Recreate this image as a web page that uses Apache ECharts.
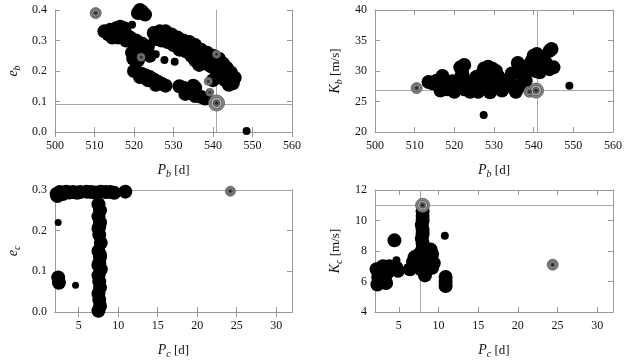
<!DOCTYPE html>
<html><head><meta charset="utf-8">
<script src="https://cdn.jsdelivr.net/npm/echarts@6/dist/echarts.min.js"></script>
<style>html,body{margin:0;padding:0;background:#fff}#c{width:639px;height:361px}</style>
</head><body><div id="c"></div>
<script>
// ---------- DATA ----------
// Panel 1: P_b [d] vs e_b
const pbEbMain = [
 [512.5,0.33],[513.5,0.32],[514,0.335],[515,0.325],[515.5,0.34],[516.5,0.345],[516.5,0.325],[517.5,0.34],[518,0.32],[514.5,0.31],[516,0.31],[518,0.3],
 [519,0.31],[519.5,0.295],[520.5,0.3],[521,0.285],[522,0.29],[522.5,0.275],[523.5,0.28],[523.5,0.26],[524,0.25],[519.5,0.26],[520.5,0.25],[521,0.235],[519.8,0.24],[522,0.255],[520.5,0.27],
 [521,0.39],[522,0.395],[522.8,0.385],[521.5,0.4],
 [525,0.325],[526.5,0.33],[528,0.33],[529.5,0.32],[531,0.31],[532.5,0.3],[534,0.295],[535.5,0.285],[537,0.27],[538.5,0.26],[540,0.25],[541.5,0.24],[542.5,0.225],[543.5,0.21],[544.5,0.195],[545.5,0.178],
 [525.5,0.305],[527,0.3],[528.5,0.295],[530,0.285],[531.5,0.27],[533,0.265],[534.5,0.25],[535.5,0.235],[536.5,0.22],[538,0.225],[539.5,0.215],[541,0.2],[542,0.185],[543,0.17],[544,0.155],[545,0.16],
 [530,0.3],[533,0.28],[536,0.26],[539,0.24],[541,0.22],[543.5,0.185],
 [540,0.17],[540.8,0.18],[544.5,0.165],
 [520,0.2],[521,0.195],[522,0.19],[523,0.185],[524,0.18],[525,0.172],[526,0.165],[527,0.158],[528,0.152],[521.5,0.18],[523.5,0.17],[525.5,0.155],
 [531.5,0.15],[532.5,0.145],[533.5,0.138],[534.5,0.13],[535.5,0.145],[535,0.152],[536,0.12],[537,0.115],[538,0.11],[533,0.125],[535.5,0.118]];
const pbEbMinor = [[519.5,0.352],[525.5,0.255],[527.7,0.236],[530.3,0.23],[548.5,0.003]];
const pbEbBestLarge = [[540.9,0.095]];
const pbEbBestMid = [[510.3,0.39]];
const pbEbBestSmall = [[538.8,0.166],[540.9,0.255],[539.2,0.13],[521.8,0.245]];
const truthPb = 540.9, truthEb = 0.092;

// Panel 2: P_b [d] vs K_b [m/s]
const pbKbMain = [[513.5,28.2],[514.5,28],[515.5,28.4],[516.5,27.8],[517,29.2],[517.5,28.2],[516.5,26.8],[518,27],[519,27.4],[519.5,28.3],[520,26.6],[521,27.6],[521.5,30.6],[522.5,31],[522,29.6],[521.5,28.8],[522.5,27],[523.5,27.8],[524,26.6],[524.5,28.3],[525,27.2],[525.5,29],[526,28.2],[526,26.6],[527,29.6],[527.5,30.4],[528.5,30.7],[529.5,30.4],[530.5,30],[531,29.2],[527.5,28.2],[528.5,27.4],[529.5,28.6],[530.5,27.8],[531.5,28.6],[532.5,28.2],[533.5,27.6],[534,28.8],[534.5,29.6],[535.5,27.2],[535.5,26.6],[536,31.3],[536.5,30.2],[537,29.4],[538,29.8],[538.5,30.8],[539.5,31.6],[540,32.5],[540.8,32.8],[541.5,31.6],[542,31],[542.5,32],[543,31.4],[544,33.3],[544.5,33.6],[545,30.6],[544,30.3],[540.5,30],[541.5,29.8],[538,28.4],[536.5,27.5],[532,26.8],[529,26.5]];
const pbKbMinor = [[527.4,22.8],[549,27.6]];
const pbKbBestLarge = [[540.6,26.8]];
const pbKbBestMid = [[510.5,27.2],[538.9,26.6]];
const truthKb = 26.9;

// Panel 3: P_c [d] vs e_c
const pcEcMain = [[2.2,0.29],[2.6,0.295],[3,0.29],[3.4,0.296],[3.8,0.294],[4.3,0.295],[4.8,0.293],[5.2,0.295],[6,0.296],[6.6,0.295],[7.2,0.294],[7.8,0.296],[8.4,0.295],[9,0.295],[9.5,0.293],[10.9,0.296],[2.3,0.285],
 [7.5,0.265],[7.7,0.25],[7.5,0.235],[7.7,0.22],[7.5,0.205],[7.6,0.19],[7.8,0.17],[7.5,0.15],[7.7,0.135],[7.6,0.12],[7.8,0.105],[7.5,0.09],[7.6,0.075],[7.7,0.06],[7.5,0.045],[7.6,0.03],[7.7,0.015],[7.5,0.003],[7.7,0.14],[7.5,0.115],[7.6,0.21],
 [2.4,0.085],[2.5,0.072]];
const pcEcMinor = [[2.4,0.22],[4.6,0.066]];
const pcEcBestMid = [[24.2,0.297]];
const truthPc = 7.7, truthEc = 0.299;

// Panel 4: P_c [d] vs K_c [m/s]
const pcKcMain = [[8,10.6],[8,10.3],[8,10.0],[7.9,9.7],[8,9.4],[8,9.1],[7.9,8.8],[8,8.5],[8,8.2],[7.9,7.9],
 [2.2,6.8],[2.4,6.3],[2.6,6],[2.8,6.6],[3,7],[3.2,6.2],[3.4,5.9],[3.6,6.6],[3.8,7],[2.3,5.8],[3.1,6.9],
 [4.45,8.7],[4.7,6.9],[4.9,6.7],[6.4,6.8],
 [7,7.6],[7.3,7.2],[7.6,7.8],[8,7.4],[8.3,6.4],[8.5,7],[8.8,7.6],[9.2,7.8],[9.4,7.2],[9.2,6.9],[7.8,6.8],[6.8,7.3],[8.1,6.8],[9,8.1],
 [10.9,6.3],[10.9,6],[10.9,5.7]];
const pcKcMinor = [[4.7,7.4],[10.8,9.0]];
const pcKcBestLarge = [[8,11.0]];
const pcKcBestMid = [[24.4,7.1]];
const truthKc = 11.0;

const pTicks = [5,10,15,20,25,30];

// ---------- CHART ----------
const FONT = 'Liberation Serif';
const frame = '#9a9a9a';
const rich = {
  i:{fontFamily:FONT,fontStyle:'italic',fontSize:14,color:'#111'},
  s:{fontFamily:FONT,fontStyle:'italic',fontSize:10,color:'#111',padding:[7,0,0,0]},
  u:{fontFamily:FONT,fontSize:13,color:'#111'}
};
const grids = [
  {left:55,top:10,width:237,height:122},
  {left:375,top:10,width:238,height:122},
  {left:55,top:190,width:237,height:122},
  {left:375,top:190,width:238,height:122}
];
function xAx(gi,min,max,interval,name,custom){
  const base = {type:'value',gridIndex:gi,min:min,max:max,
    axisLine:{lineStyle:{color:frame,width:1}},
    axisTick:{inside:true,length:5,lineStyle:{color:frame}},
    splitLine:{show:false}};
  if(interval) base.interval = interval;
  const bottom = Object.assign({},base,{position:'bottom',name:name,nameLocation:'middle',nameGap:30,
    nameTextStyle:{rich:rich},
    axisLabel:{fontFamily:FONT,fontSize:12,color:'#111',margin:8}});
  const top = Object.assign({},base,{position:'top',axisLabel:{show:false}});
  if(custom){
    bottom.axisLabel.customValues = custom;
    bottom.axisTick = Object.assign({},base.axisTick,{customValues:custom});
    top.axisTick = Object.assign({},base.axisTick,{customValues:custom});
  }
  return [bottom, top];
}
function yAx(gi,min,max,interval,name,gap,fmt){
  const base = {type:'value',gridIndex:gi,min:min,max:max,interval:interval,
    axisLine:{show:true,lineStyle:{color:frame,width:1}},
    axisTick:{show:true,inside:true,length:5,lineStyle:{color:frame}},
    splitLine:{show:false}};
  const left = Object.assign({},base,{position:'left',name:name,nameLocation:'middle',nameGap:gap,nameRotate:90,
    nameTextStyle:{rich:rich},
    axisLabel:{fontFamily:FONT,fontSize:12,color:'#111',margin:8,formatter:fmt}});
  const right = Object.assign({},base,{position:'right',axisLabel:{show:false}});
  return [left,right];
}
const xAxes = [].concat(
  xAx(0,500,560,10,'{i|P}{s|b}{u| [d]}'),
  xAx(1,500,560,10,'{i|P}{s|b}{u| [d]}'),
  xAx(2,2,32,null,'{i|P}{s|c}{u| [d]}',pTicks),
  xAx(3,2,32,null,'{i|P}{s|c}{u| [d]}',pTicks));
const yAxes = [].concat(
  yAx(0,0,0.4,0.1,'{i|e}{s|b}',33,v=>v.toFixed(1)),
  yAx(1,20,40,5,'{i|K}{s|b}{u| [m/s]}',31),
  yAx(2,0,0.3,0.1,'{i|e}{s|c}',33,v=>v.toFixed(1)),
  yAx(3,4,12,2,'{i|K}{s|c}{u| [m/s]}',31));

const series = [];
function truth(ai, xv, yv){
  const d = [];
  if(xv!=null) d.push({xAxis:xv});
  if(yv!=null) d.push({yAxis:yv});
  series.push({type:'line',xAxisIndex:ai*2,yAxisIndex:ai*2,data:[],z:1,
    markLine:{silent:true,z:1,symbol:'none',label:{show:false},animation:false,
      lineStyle:{color:'#a8a8a8',width:1,type:'solid'},data:d}});
}
function dots(ai,data,size){
  series.push({type:'scatter',xAxisIndex:ai*2,yAxisIndex:ai*2,data:data,symbolSize:size,z:10,clip:false,
    itemStyle:{color:'#000',opacity:1}});
}
function best(ai,data,size){
  const layers=[[size,'#8a8a8a','#555'],[size*0.7,'#bcbcbc','#444'],[size*0.42,'#7a7a7a','#333'],[size*0.18,'#222','#222']];
  layers.forEach((l,k)=>series.push({type:'scatter',xAxisIndex:ai*2,yAxisIndex:ai*2,data:data,symbolSize:l[0],z:20+k,clip:false,
    itemStyle:{color:l[1],borderColor:l[2],borderWidth:0.8,opacity:1}}));
}
truth(0,truthPb,truthEb); dots(0,pbEbMain,14); dots(0,pbEbMinor,8);
best(0,pbEbBestSmall,8); best(0,pbEbBestMid,11); best(0,pbEbBestLarge,16);
truth(1,truthPb,truthKb); dots(1,pbKbMain,14); dots(1,pbKbMinor,8);
best(1,pbKbBestMid,11); best(1,pbKbBestLarge,15);
truth(2,truthPc,truthEc); dots(2,pcEcMain,14); dots(2,pcEcMinor,7);
best(2,pcEcBestMid,10);
truth(3,truthPc,truthKc); dots(3,pcKcMain,14); dots(3,pcKcMinor,8);
best(3,pcKcBestLarge,14); best(3,pcKcBestMid,11);

const chart = echarts.init(document.getElementById('c'),null,{renderer:'canvas'});
chart.setOption({animation:false,backgroundColor:'#fff',grid:grids,xAxis:xAxes,yAxis:yAxes,series:series});
</script></body></html>
